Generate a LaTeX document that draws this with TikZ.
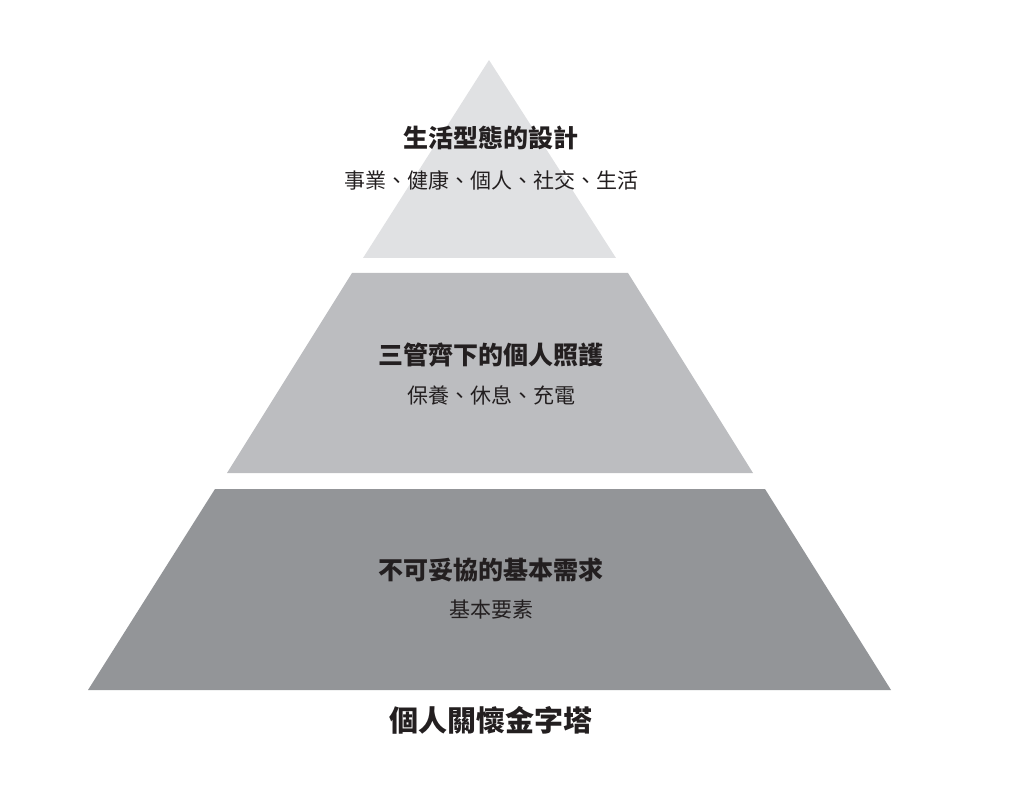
\documentclass[tikz,border=0pt]{standalone}
\usepackage{fontspec}
\setmainfont{Noto Sans CJK TC}
\begin{document}
\begin{tikzpicture}[x=1pt,y=-1pt,
  tier/.style={draw=none},
  ttl/.style={text=txt,font=\fontsize{25}{28}\selectfont\bfseries,inner sep=0},
  sub/.style={text=txt,font=\fontsize{21}{24}\selectfont,inner sep=0}]
\definecolor{txt}{HTML}{231F20}
\definecolor{ca}{HTML}{E0E1E3}
\definecolor{cb}{HTML}{BCBDC0}
\definecolor{cc}{HTML}{939598}
\useasboundingbox (0,0) rectangle (1015,786);
\fill[ca] (489,60) -- (616,258) -- (363,258) -- cycle;
\fill[cb] (352,273) -- (628,273) -- (753,473) -- (227,473) -- cycle;
\fill[cc] (215,489) -- (765,489) -- (891,690) -- (88,690) -- cycle;
\node[ttl] (t1) at (491,138) {生活型態的設計};
\node[sub] (s1) at (491,180) {事業、健康、個人、社交、生活};
\node[ttl] (t2) at (491,355) {三管齊下的個人照護};
\node[sub] (s2) at (491,395) {保養、休息、充電};
\node[ttl] (t3) at (491,570) {不可妥協的基本需求};
\node[sub] (s3) at (491,610) {基本要素};
\node[text=txt,font=\fontsize{29}{32}\selectfont\bfseries,inner sep=0] (cap) at (491,720) {個人關懷金字塔};
\end{tikzpicture}
\end{document}
